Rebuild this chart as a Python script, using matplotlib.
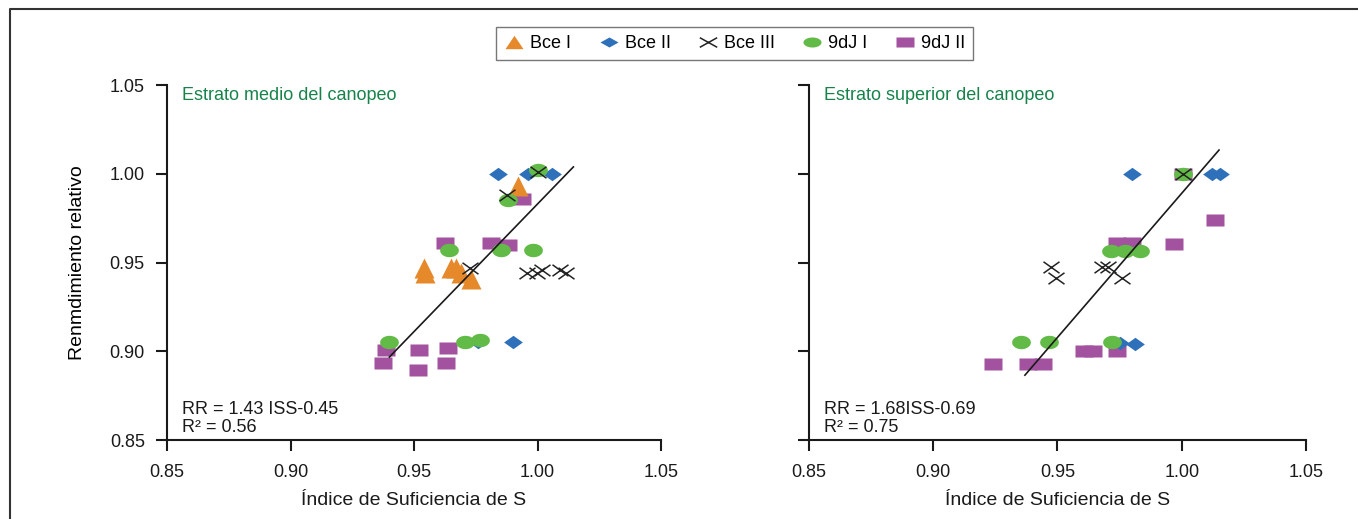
import numpy as np
import matplotlib
matplotlib.use('Agg')
from matplotlib import pyplot as plt
from matplotlib.path import Path
from matplotlib.lines import Line2D

plt.rcParams['font.family'] = ['Liberation Sans', 'DejaVu Sans']

# data: (ISS, RR) for each genotype/site
# --- estrato medio ---
bce1_m_x = [0.992, 0.954, 0.9545, 0.965, 0.967, 0.969, 0.973]
bce1_m_y = [0.993, 0.947, 0.944, 0.947, 0.947, 0.944, 0.9405]
bce2_m_x = [0.984, 0.996, 1.006, 0.976, 0.990]
bce2_m_y = [1.000, 1.000, 1.000, 0.905, 0.905]
bce3_m_x = [1.000, 0.9875, 0.9727, 0.9956, 0.9997, 1.0017, 1.009, 1.0115]
bce3_m_y = [1.001, 0.988, 0.9467, 0.944, 0.944, 0.946, 0.946, 0.944]
dj1_m_x = [1.000, 0.988, 0.964, 0.985, 0.998, 0.940, 0.9706, 0.9767]
dj1_m_y = [1.002, 0.985, 0.957, 0.957, 0.957, 0.9054, 0.9054, 0.9063]
dj2_m_x = [0.9936, 0.9625, 0.981, 0.988, 0.9387, 0.9373, 0.952, 0.9636, 0.963, 0.9516]
dj2_m_y = [0.986, 0.961, 0.961, 0.960, 0.9007, 0.8932, 0.9007, 0.9017, 0.8932, 0.8894]

# --- estrato superior ---
bce1_s_x = []
bce1_s_y = []
bce2_s_x = [0.980, 1.0006, 1.012, 1.0154, 0.9752, 0.9812]
bce2_s_y = [1.000, 1.000, 1.000, 1.000, 0.9045, 0.904]
bce3_s_x = [1.0006, 0.9474, 0.9494, 0.9678, 0.9705, 0.9758]
bce3_s_y = [1.000, 0.9476, 0.9411, 0.9476, 0.9476, 0.9411]
dj1_s_x = [1.0006, 0.9715, 0.9772, 0.9832, 0.9352, 0.9467, 0.9719]
dj1_s_y = [1.000, 0.9567, 0.9567, 0.9567, 0.905, 0.905, 0.9052]
dj2_s_x = [1.0006, 1.0134, 0.9969, 0.9738, 0.9799, 0.9607, 0.9642, 0.9738, 0.9239, 0.9383, 0.9443]
dj2_s_y = [1.000, 0.974, 0.9602, 0.9608, 0.9608, 0.9001, 0.9001, 0.9001, 0.8926, 0.8926, 0.8926]

# regression lines (slope, intercept, x range) as drawn
fit_m = [1.438, -0.455, 0.940, 1.0145]
fit_s = [1.624, -0.635, 0.9369, 1.015]

titles = ['Estrato medio del canopeo', 'Estrato superior del canopeo']
eqs = ['RR = 1.43 ISS-0.45\nR² = 0.56', 'RR = 1.68ISS-0.69\nR² = 0.75']
labels = ['Bce I', 'Bce II', 'Bce III', '9dJ I', '9dJ II']
colors = ['#e6892b', '#2f70ba', '#222222', '#62bb47', '#a2529f']
ticks = [0.85, 0.90, 0.95, 1.00, 1.05]


def shapes(ax_w):
    # marker outlines stretched horizontally by ax_w
    t = np.linspace(0, 2 * np.pi, 40)
    tri = [(-ax_w * 0.75, -1), (ax_w * 0.75, -1), (0, 1), (-ax_w * 0.75, -1)]
    dia = [(-ax_w, 0), (0, 1), (ax_w, 0), (0, -1), (-ax_w, 0)]
    crs = Path([(-ax_w, -1), (ax_w, 1), (-ax_w, 1), (ax_w, -1)],
               [Path.MOVETO, Path.LINETO, Path.MOVETO, Path.LINETO])
    ell = list(zip(ax_w * np.cos(t), np.sin(t)))
    rec = [(-ax_w, -1), (ax_w, -1), (ax_w, 1), (-ax_w, 1), (-ax_w, -1)]
    return [tri, dia, crs, ell, rec]


markers = shapes(1.4)
markers[0] = '^'
sizes = [14, 13.5, 11.5, 13.5, 13]
zorders = [3, 4, 6, 5, 2]

fig = plt.figure(figsize=(13.58, 5.19), dpi=100)
ax1 = fig.add_axes([0.1230, 0.1522, 0.3638, 0.6840])
ax2 = fig.add_axes([0.5957, 0.1522, 0.3660, 0.6840])

panels = [
    (ax1, [(bce1_m_x, bce1_m_y), (bce2_m_x, bce2_m_y), (bce3_m_x, bce3_m_y),
           (dj1_m_x, dj1_m_y), (dj2_m_x, dj2_m_y)], fit_m),
    (ax2, [(bce1_s_x, bce1_s_y), (bce2_s_x, bce2_s_y), (bce3_s_x, bce3_s_y),
           (dj1_s_x, dj1_s_y), (dj2_s_x, dj2_s_y)], fit_s),
]

for i, (ax, series, fit) in enumerate(panels):
    for j, (xs, ys) in enumerate(series):
        if j == 2:
            ax.plot(xs, ys, ls='none', marker=markers[j], ms=sizes[j],
                    mfc='none', mec=colors[j], mew=1.1, zorder=zorders[j])
        else:
            ax.plot(xs, ys, ls='none', marker=markers[j], ms=sizes[j],
                    mfc=colors[j], mec='none', zorder=zorders[j])
    fx = np.array(fit[2:])
    ax.plot(fx, fit[0] * fx + fit[1], color='#1a1a1a', lw=1.2, zorder=7)

    ax.set_xlim(0.85, 1.05)
    ax.set_ylim(0.85, 1.05)
    ax.set_xticks(ticks)
    ax.set_yticks(ticks)
    ax.set_xticklabels(['%.2f' % v for v in ticks])
    if i == 0:
        ax.set_yticklabels(['%.2f' % v for v in ticks])
        ax.set_ylabel('Renmdimiento relativo', fontsize=14, labelpad=17)
    else:
        ax.set_yticklabels([])
    for s in ['top', 'right']:
        ax.spines[s].set_visible(False)
    for s in ['left', 'bottom']:
        ax.spines[s].set_linewidth(1.5)
        ax.spines[s].set_color('#1a1a1a')
    ax.tick_params(axis='both', direction='out', length=8, width=1.5,
                   labelsize=13, colors='#1a1a1a')
    ax.tick_params(axis='x', pad=9)
    ax.tick_params(axis='y', pad=8)
    ax.set_xlabel('Índice de Suficiencia de S', fontsize=14, labelpad=8,
                  color='#1a1a1a')
    ax.text(0.03, 0.995, titles[i], transform=ax.transAxes, fontsize=13,
            color='#17834a', va='top', ha='left')
    ax.text(0.03, 0.012, eqs[i], transform=ax.transAxes, fontsize=13,
            color='#1a1a1a', va='bottom', ha='left', linespacing=1.05)

# legend symbols are flatter than the plotted ones
leg_markers = shapes(1.8)
handles = []
for j in range(5):
    if j == 2:
        h = Line2D([], [], ls='none', marker=leg_markers[j], ms=12.5,
                   mfc='none', mec=colors[j], mew=1.1, label=labels[j])
    else:
        h = Line2D([], [], ls='none', marker=leg_markers[j], ms=13,
                   mfc=colors[j], mec='none', label=labels[j])
    handles.append(h)

leg = fig.legend(handles=handles, loc='upper center', ncol=5,
                 bbox_to_anchor=(0.541, 0.948), frameon=True, fancybox=False,
                 fontsize=13, handlelength=1.1, handletextpad=0.35,
                 columnspacing=1.5, borderpad=0.45, borderaxespad=0.0)
leg.get_frame().set_edgecolor('#555555')
leg.get_frame().set_linewidth(1.0)

# partial frame around the figure (top and left only)
fx0 = 10 / 1358
fy0 = 1 - 9 / 519
fig.add_artist(Line2D([fx0, fx0, 1.0], [0.0, fy0, fy0], color='#333333',
                      lw=1.5, transform=fig.transFigure))

fig.savefig('out.png', dpi=100)
